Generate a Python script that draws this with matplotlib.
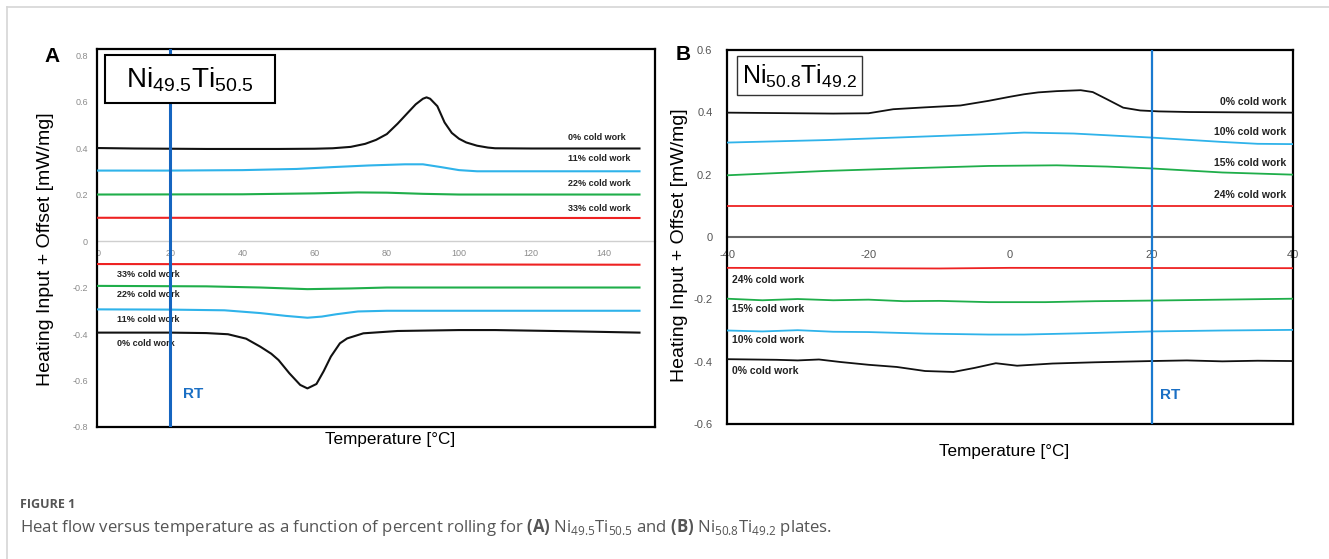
import matplotlib
matplotlib.use("Agg")
import matplotlib.pyplot as plt
from matplotlib.patches import Rectangle
from matplotlib.lines import Line2D

plt.rcParams['font.family'] = ['Liberation Sans', 'DejaVu Sans']
plt.rcParams['mathtext.fontset'] = 'custom'
plt.rcParams['mathtext.rm'] = 'Open Sans'
plt.rcParams['mathtext.bf'] = 'Open Sans:bold'

# ---- panel A: Ni49.5Ti50.5, temperature (deg C) / heat flow + offset ----
a_heat_0_x = [0, 10, 20, 30, 40, 50, 60, 65, 70, 74, 77, 80, 83, 86, 88, 90, 91, 92, 94, 96, 98, 100, 102, 105, 108, 110, 120, 130, 140, 150]
a_heat_0_y = [0.40, 0.398, 0.397, 0.396, 0.396, 0.396, 0.397, 0.399, 0.405, 0.418, 0.435, 0.46, 0.505, 0.555, 0.588, 0.612, 0.618, 0.612, 0.58, 0.51, 0.465, 0.44, 0.424, 0.41, 0.402, 0.399, 0.398, 0.398, 0.398, 0.398]
a_heat_11_x = [0, 20, 40, 55, 65, 75, 85, 90, 95, 100, 105, 120, 150]
a_heat_11_y = [0.303, 0.303, 0.305, 0.31, 0.318, 0.325, 0.33, 0.33, 0.318, 0.305, 0.30, 0.30, 0.30]
a_heat_22_x = [0, 40, 60, 72, 80, 90, 100, 150]
a_heat_22_y = [0.20, 0.201, 0.205, 0.209, 0.208, 0.203, 0.20, 0.20]
a_heat_33_x = [0, 150]
a_heat_33_y = [0.10, 0.099]

a_cool_33_x = [0, 150]
a_cool_33_y = [-0.099, -0.102]
a_cool_22_x = [0, 30, 45, 58, 70, 80, 150]
a_cool_22_y = [-0.193, -0.195, -0.20, -0.207, -0.204, -0.20, -0.20]
a_cool_11_x = [0, 20, 35, 45, 52, 58, 62, 66, 72, 80, 150]
a_cool_11_y = [-0.294, -0.295, -0.298, -0.31, -0.322, -0.33, -0.325, -0.315, -0.303, -0.30, -0.30]
a_cool_0_x = [0, 20, 30, 36, 41, 45, 48, 50, 53, 56, 58, 60.5, 62.5, 64.5, 67, 69, 73.5, 83, 100, 110, 130, 150]
a_cool_0_y = [-0.394, -0.394, -0.396, -0.401, -0.42, -0.455, -0.485, -0.512, -0.569, -0.619, -0.634, -0.615, -0.56, -0.497, -0.44, -0.419, -0.397, -0.387, -0.383, -0.383, -0.388, -0.394]

a_heat_labels = ['0% cold work', '11% cold work', '22% cold work', '33% cold work']
a_heat_label_y = [0.444, 0.353, 0.248, 0.141]
a_cool_labels = ['33% cold work', '22% cold work', '11% cold work', '0% cold work']
a_cool_label_y = [-0.142, -0.232, -0.337, -0.44]
a_yticks = [0.8, 0.6, 0.4, 0.2, 0, -0.2, -0.4, -0.6, -0.8]
a_xticks = [0, 20, 40, 60, 80, 100, 120, 140]

# ---- panel B: Ni50.8Ti49.2 ----
b_heat_0_x = [-40, -30, -25, -20, -16.5, -12, -7, -3, 0, 2, 4, 6.6, 10, 11.7, 13.7, 16, 18.4, 21, 25.4, 32, 40]
b_heat_0_y = [0.399, 0.397, 0.396, 0.397, 0.41, 0.416, 0.422, 0.437, 0.45, 0.458, 0.464, 0.468, 0.471, 0.465, 0.442, 0.415, 0.406, 0.403, 0.401, 0.40, 0.399]
b_heat_10_x = [-40, -26, -15, -3, 2, 9, 20, 30, 35, 40]
b_heat_10_y = [0.303, 0.311, 0.32, 0.33, 0.335, 0.332, 0.319, 0.305, 0.299, 0.298]
b_heat_15_x = [-40, -26, -15, -3, 6.6, 13.7, 20, 30, 40]
b_heat_15_y = [0.198, 0.212, 0.22, 0.228, 0.23, 0.226, 0.22, 0.207, 0.20]
b_heat_24_x = [-40, 40]
b_heat_24_y = [0.10, 0.10]

b_cool_24_x = [-40, -10, 0, 40]
b_cool_24_y = [-0.099, -0.101, -0.099, -0.10]
b_cool_15_x = [-40, -35, -30, -25, -20, -15, -10, -3, 5, 12, 20, 30, 40]
b_cool_15_y = [-0.198, -0.203, -0.199, -0.203, -0.201, -0.206, -0.205, -0.209, -0.209, -0.206, -0.204, -0.201, -0.198]
b_cool_10_x = [-40, -35, -30, -25, -20, -12, -3, 2, 10, 20, 30, 40]
b_cool_10_y = [-0.30, -0.303, -0.299, -0.304, -0.305, -0.31, -0.313, -0.313, -0.309, -0.303, -0.30, -0.298]
b_cool_0_x = [-40, -33, -30, -27, -24, -20, -16, -12, -8, -5, -2, 1, 6, 12, 20, 25, 30, 35, 40]
b_cool_0_y = [-0.392, -0.394, -0.396, -0.393, -0.401, -0.41, -0.417, -0.43, -0.433, -0.42, -0.405, -0.413, -0.406, -0.402, -0.398, -0.396, -0.399, -0.397, -0.398]

b_heat_labels = ['0% cold work', '10% cold work', '15% cold work', '24% cold work']
b_heat_label_y = [0.434, 0.337, 0.237, 0.134]
b_cool_labels = ['24% cold work', '15% cold work', '10% cold work', '0% cold work']
b_cool_label_y = [-0.137, -0.23, -0.33, -0.43]
b_yticks = [0.6, 0.4, 0.2, 0, -0.2, -0.4, -0.6]
b_xticks = [-40, -20, 0, 20, 40]

colors = ['#111111', '#2fb3ea', '#1fae4a', '#ee2222']
W, H = 1329, 559


def px_axes(x0, y0, x1, y1):
    return [x0 / W, 1 - y1 / H, (x1 - x0) / W, (y1 - y0) / H]


def fmt(v):
    return '0' if v == 0 else f'{v:.1f}'


def setup(ax, xlim, ylim, xticks, yticks, tick_size, tick_color, zero_color, zero_lw, xpad, ypad):
    ax.set_xlim(*xlim)
    ax.set_ylim(*ylim)
    for s in ax.spines.values():
        s.set_linewidth(1.6)
        s.set_color('black')
    ax.set_yticks(yticks)
    ax.set_yticklabels([fmt(v) for v in yticks])
    ax.tick_params(axis='y', length=0, labelsize=tick_size, labelcolor=tick_color, pad=ypad)
    ax.set_xticks([])
    loc = -ylim[0] / (ylim[1] - ylim[0])
    sec = ax.secondary_xaxis(loc)
    sec.set_alignment('bottom')
    sec.set_xticks(xticks)
    sec.set_xticklabels([str(v) for v in xticks])
    sec.tick_params(length=0, labelsize=tick_size, labelcolor=tick_color, pad=xpad)
    sec.spines['bottom'].set_color(zero_color)
    sec.spines['bottom'].set_linewidth(zero_lw)


fig = plt.figure(figsize=(13.29, 5.59), dpi=100)

# panel A
ax1 = fig.add_axes(px_axes(97, 49, 655, 427))
setup(ax1, (-0.3, 154.3), (-0.8, 0.826), a_xticks, a_yticks, 6.5, '#8c8c8c', '#cfcfcf', 1.0, 5.5, 6.5)
for (xs, ys), c in zip([(a_heat_0_x, a_heat_0_y), (a_heat_11_x, a_heat_11_y),
                        (a_heat_22_x, a_heat_22_y), (a_heat_33_x, a_heat_33_y)], colors):
    ax1.plot(xs, ys, color=c, lw=1.5, zorder=3)
for (xs, ys), c in zip([(a_cool_0_x, a_cool_0_y), (a_cool_11_x, a_cool_11_y),
                        (a_cool_22_x, a_cool_22_y), (a_cool_33_x, a_cool_33_y)], colors):
    ax1.plot(xs, ys, color=c, lw=1.5, zorder=3)
for lab, y in zip(a_heat_labels, a_heat_label_y):
    ax1.text(130.2, y, lab, fontsize=6.5, fontweight='bold', color='#222222', va='center', ha='left')
for lab, y in zip(a_cool_labels, a_cool_label_y):
    ax1.text(5.3, y, lab, fontsize=6.5, fontweight='bold', color='#222222', va='center', ha='left')
ax1.axvline(20, color='#1565c0', lw=2.2, zorder=4)
ax1.text(23.5, -0.66, 'RT', fontsize=11, fontweight='bold', color='#1a6fc4', va='center', ha='left')
ax1.add_patch(Rectangle((0.0143, 0.857), 0.305, 0.127, transform=ax1.transAxes,
                        facecolor='white', edgecolor='black', lw=1.5, zorder=5))
ax1.text(0.167, 0.918, r'Ni$_\mathregular{49.5}$Ti$_\mathregular{50.5}$', transform=ax1.transAxes,
         fontsize=20, ha='center', va='center', zorder=6)
ax1.set_ylabel('Heating Input + Offset [mW/mg]', fontsize=14)
ax1.yaxis.set_label_coords(-0.077, 0.471)
ax1.set_xlabel('Temperature [°C]', fontsize=12.3)
ax1.xaxis.set_label_coords(0.526, -0.034)
ax1.xaxis.label.set_va('center')

# panel B
ax2 = fig.add_axes(px_axes(727, 50, 1293, 424))
setup(ax2, (-40, 40), (-0.6, 0.6), b_xticks, b_yticks, 8, '#555555', '#666666', 1.5, 9.5, 10.5)
for (xs, ys), c in zip([(b_heat_0_x, b_heat_0_y), (b_heat_10_x, b_heat_10_y),
                        (b_heat_15_x, b_heat_15_y), (b_heat_24_x, b_heat_24_y)], colors):
    ax2.plot(xs, ys, color=c, lw=1.3, zorder=3)
for (xs, ys), c in zip([(b_cool_0_x, b_cool_0_y), (b_cool_10_x, b_cool_10_y),
                        (b_cool_15_x, b_cool_15_y), (b_cool_24_x, b_cool_24_y)], colors):
    ax2.plot(xs, ys, color=c, lw=1.3, zorder=3)
for lab, y in zip(b_heat_labels, b_heat_label_y):
    ax2.text(39.1, y, lab, fontsize=7.5, fontweight='bold', color='#222222', va='center', ha='right')
for lab, y in zip(b_cool_labels, b_cool_label_y):
    ax2.text(-39.3, y, lab, fontsize=7.5, fontweight='bold', color='#222222', va='center', ha='left')
ax2.axvline(20, color='#1a7ad0', lw=1.6, zorder=4)
ax2.text(21.2, -0.506, 'RT', fontsize=11, fontweight='bold', color='#1a6fc4', va='center', ha='left')
ax2.add_patch(Rectangle((0.018, 0.880), 0.22, 0.104, transform=ax2.transAxes,
                        facecolor='white', edgecolor='#333333', lw=1.0, zorder=5))
ax2.text(0.128, 0.929, r'Ni$_\mathregular{50.8}$Ti$_\mathregular{49.2}$', transform=ax2.transAxes,
         fontsize=18, ha='center', va='center', zorder=6)
ax2.set_ylabel('Heating Input + Offset [mW/mg]', fontsize=14)
ax2.yaxis.set_label_coords(-0.069, 0.479)
ax2.set_xlabel('Temperature [°C]', fontsize=12.3)
ax2.xaxis.set_label_coords(0.49, -0.074)
ax2.xaxis.label.set_va('center')

# panel letters
fig.text(52 / W, 1 - 56 / H, 'A', fontsize=15, fontweight='bold', ha='center', va='center')
fig.text(683 / W, 1 - 54 / H, 'B', fontsize=15, fontweight='bold', ha='center', va='center')

# caption and frame
fig.add_artist(Line2D([7 / W, 1], [1 - 7 / H, 1 - 7 / H], color='#d6d6d6', lw=1.2))
fig.add_artist(Line2D([7 / W, 7 / W], [0, 1 - 7 / H], color='#d6d6d6', lw=1.2))
fig.text(20 / W, 1 - 505 / H, 'FIGURE 1', fontsize=9, fontweight='bold', color='#555555',
         family='Open Sans', va='center', ha='left')
fig.text(20 / W, 1 - 527 / H,
         r'Heat flow versus temperature as a function of percent rolling for $\mathbf{(A)}$ '
         r'Ni$_\mathregular{49.5}$Ti$_\mathregular{50.5}$ and $\mathbf{(B)}$ '
         r'Ni$_\mathregular{50.8}$Ti$_\mathregular{49.2}$ plates.',
         fontsize=12.1, color='#555555', family='Open Sans', va='center', ha='left')

fig.savefig('out.png', dpi=100)
